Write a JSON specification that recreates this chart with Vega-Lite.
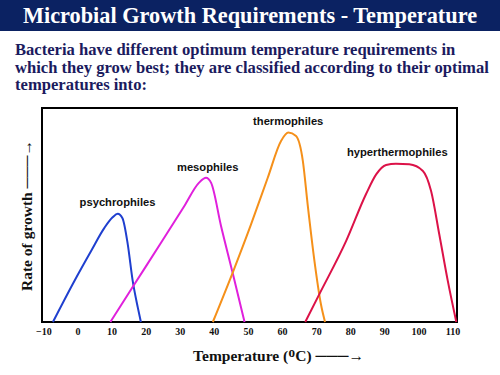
{
  "$schema": "https://vega.github.io/schema/vega-lite/v6.json",
  "padding": 0,
  "background": "white",
  "spacing": 10,
  "config": {"concat": {"spacing": 0}},
  "vconcat": [
    {
      "width": 500,
      "height": 31,
      "view": {"fill": "#0b2262", "stroke": null},
      "data": {"values": [{"label": "Microbial Growth Requirements - Temperature"}]},
      "mark": {"type": "text", "color": "white", "font": "Liberation Serif", "fontWeight": "bold", "fontSize": 22.3, "baseline": "middle", "align": "center"},
      "encoding": {"text": {"field": "label"}}
    },
    {
      "spacing": 0,
      "hconcat": [
        {
          "width": 14,
          "height": 1,
          "view": {"stroke": null},
          "data": {"values": []},
          "mark": "text",
          "encoding": {}
        },
        {
          "width": 415,
          "height": 214,
          "view": {"stroke": "black", "strokeWidth": 2, "fill": "white"},
          "title": {
            "text": ["Bacteria have different optimum temperature requirements in", "which they grow best; they are classified according to their optimal", "temperatures into:"],
            "anchor": "start",
            "frame": "group",
            "dx": -27,
            "offset": 14,
            "fontSize": 16.6,
            "font": "Liberation Serif",
            "fontWeight": "bold",
            "color": "#1b1b5e",
            "lineHeight": 17.5
          },
          "encoding": {
            "x": {
              "field": "temp", "type": "quantitative",
              "scale": {"domain": [-10.4, 111.3], "nice": false, "zero": false},
              "axis": {
                "values": [-10, 0, 10, 20, 30, 40, 50, 60, 70, 80, 90, 100, 110],
                "labelOverlap": false,
                "labelBound": false,
                "ticks": false, "domain": false, "grid": false,
                "labelFont": "Liberation Serif", "labelFontWeight": "bold", "labelFontSize": 10, "labelColor": "#111111", "labelPadding": 4,
                "title": "Temperature (ᴼC) ───→",
                "titleFont": "Liberation Serif", "titleFontWeight": "bold", "titleFontSize": 15.5, "titleColor": "#111111", "titlePadding": 12,
                "titleX": 236
              }
            },
            "y": {
              "field": "rate", "type": "quantitative",
              "scale": {"domain": [0, 100], "nice": false},
              "axis": {
                "labels": false, "ticks": false, "domain": false, "grid": false,
                "title": "Rate of growth ───→",
                "titleFont": "Liberation Serif", "titleFontWeight": "bold", "titleFontSize": 15.5, "titleColor": "#111111", "titlePadding": 8
              }
            }
          },
          "layer": [
            {
              "data": {"values": [
                {"species": "psychrophiles", "temp": -7.2, "rate": 0},
                {"species": "psychrophiles", "temp": -0.9, "rate": 19.2},
                {"species": "psychrophiles", "temp": 4, "rate": 33.2},
                {"species": "psychrophiles", "temp": 7.9, "rate": 44},
                {"species": "psychrophiles", "temp": 10.3, "rate": 48.9},
                {"species": "psychrophiles", "temp": 11.8, "rate": 50.6},
                {"species": "psychrophiles", "temp": 13.2, "rate": 48.5},
                {"species": "psychrophiles", "temp": 14.75, "rate": 36.3},
                {"species": "psychrophiles", "temp": 16.2, "rate": 19.2},
                {"species": "psychrophiles", "temp": 17.7, "rate": 6.7},
                {"species": "psychrophiles", "temp": 18.6, "rate": 0},
                {"species": "mesophiles", "temp": 9.65, "rate": 0},
                {"species": "mesophiles", "temp": 16.7, "rate": 17.6},
                {"species": "mesophiles", "temp": 24.5, "rate": 37},
                {"species": "mesophiles", "temp": 31.35, "rate": 54.2},
                {"species": "mesophiles", "temp": 35.6, "rate": 65},
                {"species": "mesophiles", "temp": 37.7, "rate": 67.4},
                {"species": "mesophiles", "temp": 39.2, "rate": 65},
                {"species": "mesophiles", "temp": 42.1, "rate": 44.9},
                {"species": "mesophiles", "temp": 45.5, "rate": 23},
                {"species": "mesophiles", "temp": 49, "rate": 0},
                {"species": "thermophiles", "temp": 39.7, "rate": 0},
                {"species": "thermophiles", "temp": 45.5, "rate": 23},
                {"species": "thermophiles", "temp": 50.9, "rate": 45.6},
                {"species": "thermophiles", "temp": 55.8, "rate": 67.4},
                {"species": "thermophiles", "temp": 59.7, "rate": 84.6},
                {"species": "thermophiles", "temp": 61.85, "rate": 88.5},
                {"species": "thermophiles", "temp": 64.1, "rate": 86.9},
                {"species": "thermophiles", "temp": 66.1, "rate": 75.2},
                {"species": "thermophiles", "temp": 67.5, "rate": 55},
                {"species": "thermophiles", "temp": 69.5, "rate": 28.5},
                {"species": "thermophiles", "temp": 71.4, "rate": 8.3},
                {"species": "thermophiles", "temp": 72.6, "rate": 0},
                {"species": "hyperthermophiles", "temp": 66.8, "rate": 0},
                {"species": "hyperthermophiles", "temp": 70.9, "rate": 12.9},
                {"species": "hyperthermophiles", "temp": 78.8, "rate": 37.9},
                {"species": "hyperthermophiles", "temp": 84.6, "rate": 59.7},
                {"species": "hyperthermophiles", "temp": 87.6, "rate": 69},
                {"species": "hyperthermophiles", "temp": 90.5, "rate": 73.4},
                {"species": "hyperthermophiles", "temp": 93.4, "rate": 74},
                {"species": "hyperthermophiles", "temp": 97.3, "rate": 73.7},
                {"species": "hyperthermophiles", "temp": 101.3, "rate": 70.6},
                {"species": "hyperthermophiles", "temp": 103.7, "rate": 61.2},
                {"species": "hyperthermophiles", "temp": 106.1, "rate": 41},
                {"species": "hyperthermophiles", "temp": 108.6, "rate": 19.2},
                {"species": "hyperthermophiles", "temp": 111.1, "rate": 0}
              ]},
              "mark": {"type": "line", "interpolate": "monotone", "strokeWidth": 2},
              "encoding": {
                "color": {
                  "field": "species", "type": "nominal",
                  "scale": {"domain": ["psychrophiles", "mesophiles", "thermophiles", "hyperthermophiles"], "range": ["#1f3fcf", "#e020dc", "#f5901a", "#dc1248"]},
                  "legend": null
                }
              }
            },
            {
              "data": {"values": [
                {"name": "psychrophiles", "temp": 11.75, "rate": 55.7},
                {"name": "mesophiles", "temp": 38.2, "rate": 72.1},
                {"name": "thermophiles", "temp": 61.8, "rate": 93.6},
                {"name": "hyperthermophiles", "temp": 93.8, "rate": 78.8}
              ]},
              "mark": {"type": "text", "font": "Liberation Sans", "fontWeight": "bold", "fontSize": 11.2, "color": "#111111", "baseline": "middle", "align": "center"},
              "encoding": {
                "text": {"field": "name"}
              }
            }
          ]
        }
      ]
    }
  ]
}
